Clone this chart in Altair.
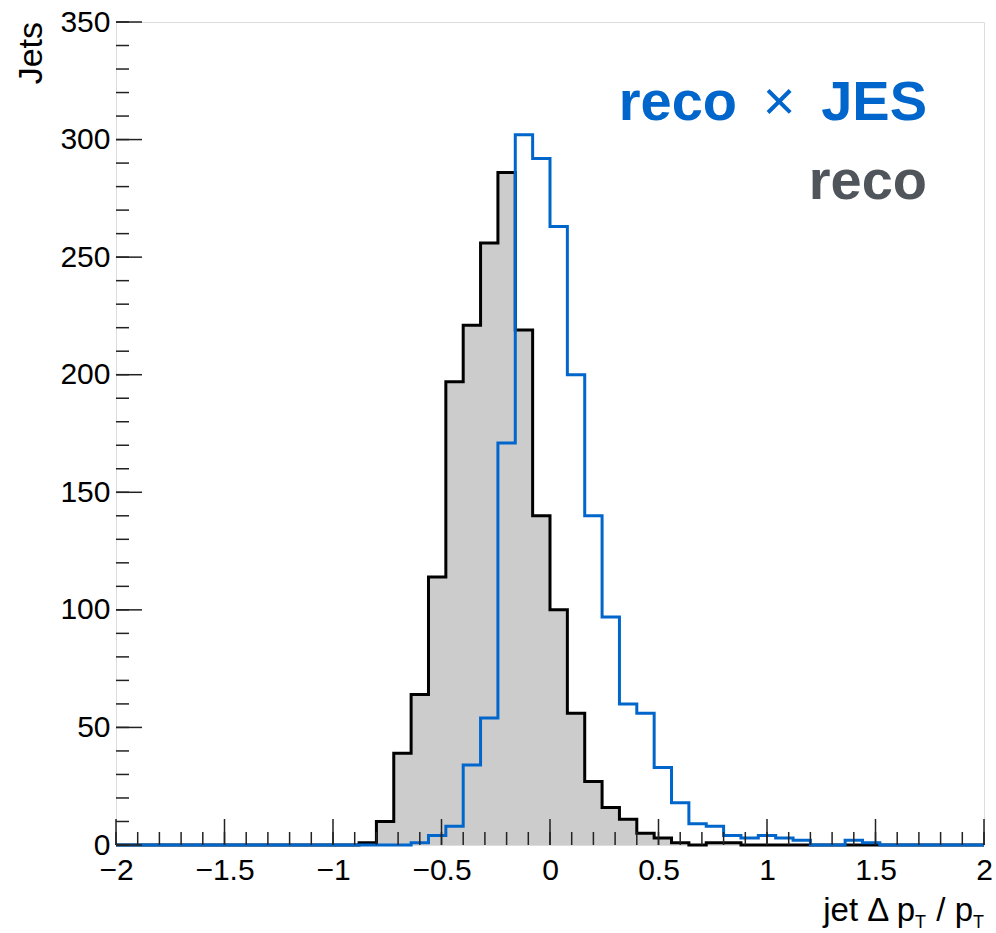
import altair as alt
import numpy as np
import pandas as pd

# 50 bins of width 0.08 spanning [-2, 2]
bin_edges = np.round(np.linspace(-2.0, 2.0, 51), 2)

# jet counts per bin: plain reconstruction and after the JES correction
reco_counts = [0] * 14 + [1, 10, 39, 64, 114, 197, 221, 256, 286, 219, 140,
                          100, 56, 27, 16, 11, 5, 3, 1, 0, 1, 1] + [0] * 14
jes_counts = [0] * 17 + [1, 4, 8, 34, 54, 171, 302, 292, 263, 200, 140, 97,
                         60, 56, 33, 18, 9, 8, 4, 3, 4, 3, 2, 0, 0, 2, 1] + [0] * 6

x_major_ticks = [-2, -1.5, -1, -0.5, 0, 0.5, 1, 1.5, 2]
x_minor_ticks = [round(-2 + 0.1 * i, 1) for i in range(41)]
y_major_ticks = list(range(0, 351, 50))
y_minor_ticks = list(range(0, 351, 10))

BLUE = "#0066cc"
GREY_TEXT = "#50545b"
FONT = "Liberation Sans"
W, H = 868, 823

# step outline needs the closing edge at x = 2
hist = pd.DataFrame({
    "edge": bin_edges,
    "reco": reco_counts + [reco_counts[-1]],
    "jes": jes_counts + [jes_counts[-1]],
})

x_scale = alt.Scale(domain=[-2, 2], nice=False, zero=False)
y_scale = alt.Scale(domain=[0, 350], nice=False, zero=True)

x_axis = alt.Axis(values=x_major_ticks, format="~g",
                  labelExpr="replace(datum.label, '-', '\u2212')",
                  ticks=False, domain=False, grid=False, title=None,
                  labelFontSize=30, labelFont=FONT, labelColor="black",
                  labelPadding=10, labelFlush=False, labelOverlap=False)
y_axis = alt.Axis(values=y_major_ticks, format="d",
                  ticks=False, domain=False, grid=False, title=None,
                  labelFontSize=30, labelFont=FONT, labelColor="black",
                  labelPadding=6, labelFlush=False, labelOverlap=False)


def xq(field):
    return alt.X(f"{field}:Q", scale=x_scale, axis=x_axis)


def yq(field):
    return alt.Y(f"{field}:Q", scale=y_scale, axis=y_axis)


base = alt.Chart(hist)

reco_fill = base.mark_area(interpolate="step-after", color="#cccccc").encode(
    x=xq("edge"), y=yq("reco"))
reco_line = base.mark_line(interpolate="step-after", color="black",
                           strokeWidth=3).encode(x=xq("edge"), y=yq("reco"))
jes_line = base.mark_line(interpolate="step-after", color=BLUE,
                          strokeWidth=3).encode(x=xq("edge"), y=yq("jes"))

# inward ticks along the bottom and left edges of the frame
xmaj = alt.Chart(pd.DataFrame({"t": x_major_ticks})).mark_rule(
    color="#222222", strokeWidth=1.5).encode(
    x=xq("t"), y=alt.value(H), y2=alt.value(H - 26))
xmin = alt.Chart(pd.DataFrame({"t": x_minor_ticks})).mark_rule(
    color="#222222", strokeWidth=1.5).encode(
    x=xq("t"), y=alt.value(H), y2=alt.value(H - 13))
ymaj = alt.Chart(pd.DataFrame({"t": y_major_ticks})).mark_rule(
    color="#222222", strokeWidth=1.5).encode(
    y=yq("t"), x=alt.value(0), x2=alt.value(26))
ymin = alt.Chart(pd.DataFrame({"t": y_minor_ticks})).mark_rule(
    color="#222222", strokeWidth=1.5).encode(
    y=yq("t"), x=alt.value(0), x2=alt.value(13))


def label(text, x, y, size, color="black", align="right", weight="normal",
          angle=0):
    return alt.Chart(pd.DataFrame({"s": [text]})).mark_text(
        align=align, baseline="alphabetic", fontSize=size, font=FONT,
        fontWeight=weight, color=color, angle=angle).encode(
        x=alt.value(x), y=alt.value(y), text="s:N")


y_title = label("Jets", -74, 0, 34, angle=270)

x_title = [
    label("jet \u0394 p", 799, 899, 33),
    label("T", 799, 906, 18, align="left"),
    label("/ p", 857, 899, 33),
    label("T", 868, 906, 18),
]

legend = [
    label("reco", 621, 98, 56, color=BLUE, weight="bold"),
    label("\u00d7", 663, 98, 56, color=BLUE, align="center"),
    label("JES", 811, 98, 56, color=BLUE, weight="bold"),
    label("reco", 811, 177, 56, color=GREY_TEXT, weight="bold"),
]

chart = alt.layer(
    reco_fill, reco_line, jes_line, xmin, xmaj, ymin, ymaj,
    y_title, *x_title, *legend,
).properties(
    width=W, height=H,
    padding={"left": 116, "top": 22, "right": 12, "bottom": 88},
    autosize=alt.AutoSizeParams(type="none"),
).configure_view(
    stroke="black", strokeWidth=2, fill="white",
).configure(background="white")

chart.save("out.html", embed_options={"renderer": "svg", "actions": False})
